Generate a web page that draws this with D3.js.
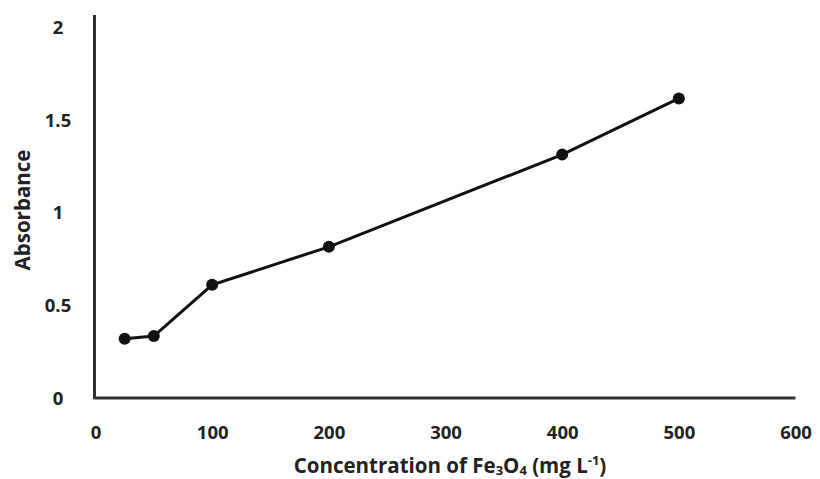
<!DOCTYPE html>
<html><head><meta charset="utf-8">
<script src="https://cdn.jsdelivr.net/npm/d3@7"></script>
<style>body{margin:0;background:#fff}text{font-family:"Open Sans",sans-serif;font-weight:bold;fill:#222}</style>
</head><body>
<svg id="c" width="820" height="479"></svg>
<script>
const concentrations = [25, 50, 100, 200, 400, 500];
const absorbance = [0.32, 0.334, 0.61, 0.815, 1.312, 1.615];
const xTicks = [0, 100, 200, 300, 400, 500, 600];
const yTicks = [0, 0.5, 1, 1.5, 2];
const yTickLabels = ["0", "0.5", "1", "1.5", "2"];

const svg = d3.select("#c");
const x = d3.scaleLinear().domain([0, 600]).range([95.5, 795.5]);
const y = d3.scaleLinear().domain([0, 2]).range([398, 27]);

// axes lines
svg.append("path")
  .attr("d", `M${x(0)-1},15 L${x(0)-1},${y(0)} L${x(600)},${y(0)}`)
  .attr("fill", "none").attr("stroke", "#333").attr("stroke-width", 3)
  .attr("stroke-linejoin", "round");

const xAxis = d3.axisBottom(x).tickValues(xTicks).tickSize(0).tickFormat(d3.format("d"));
const gx = svg.append("g").attr("transform", `translate(0,${y(0)})`).call(xAxis);
gx.select(".domain").remove();
gx.selectAll("text").attr("dy", null).attr("y", 41).style("font-size", "18.5px").attr("fill", "#222");

const yAxis = d3.axisLeft(y).tickValues(yTicks).tickSize(0).tickFormat((d, i) => yTickLabels[i]);
const gy = svg.append("g").attr("transform", `translate(58,0)`).call(yAxis);
gy.select(".domain").remove();
gy.selectAll("text").attr("x", 0).attr("text-anchor", "middle").attr("dy", "0.35em").style("font-size", "18.5px").attr("fill", "#222");

// line
const data = concentrations.map((c, i) => ({c, a: absorbance[i]}));
svg.append("path").datum(data)
  .attr("d", d3.line().x(d => x(d.c)).y(d => y(d.a)))
  .attr("fill", "none").attr("stroke", "#111").attr("stroke-width", 3);
svg.selectAll("circle.pt").data(data).enter().append("circle")
  .attr("cx", d => x(d.c)).attr("cy", d => y(d.a)).attr("r", 6).attr("fill", "#111");

// titles
const big = "20.5px", small = "13px";
const xt = svg.append("text").attr("x", 450).attr("y", 473).attr("text-anchor", "middle").style("font-size", big);
xt.append("tspan").text("Concentration of Fe");
xt.append("tspan").text("3").style("font-size", small).attr("dy", 2);
xt.append("tspan").text("O").style("font-size", big).attr("dy", -2);
xt.append("tspan").text("4").style("font-size", small).attr("dy", 2);
xt.append("tspan").text(" (mg L").style("font-size", big).attr("dy", -2);
xt.append("tspan").text("-1").style("font-size", small).attr("dy", -8);
xt.append("tspan").text(")").style("font-size", big).attr("dy", 8);

svg.append("text").attr("transform", "translate(30,210) rotate(-90)")
  .attr("text-anchor", "middle").style("font-size", "20.5px").text("Absorbance");
</script>
</body></html>
